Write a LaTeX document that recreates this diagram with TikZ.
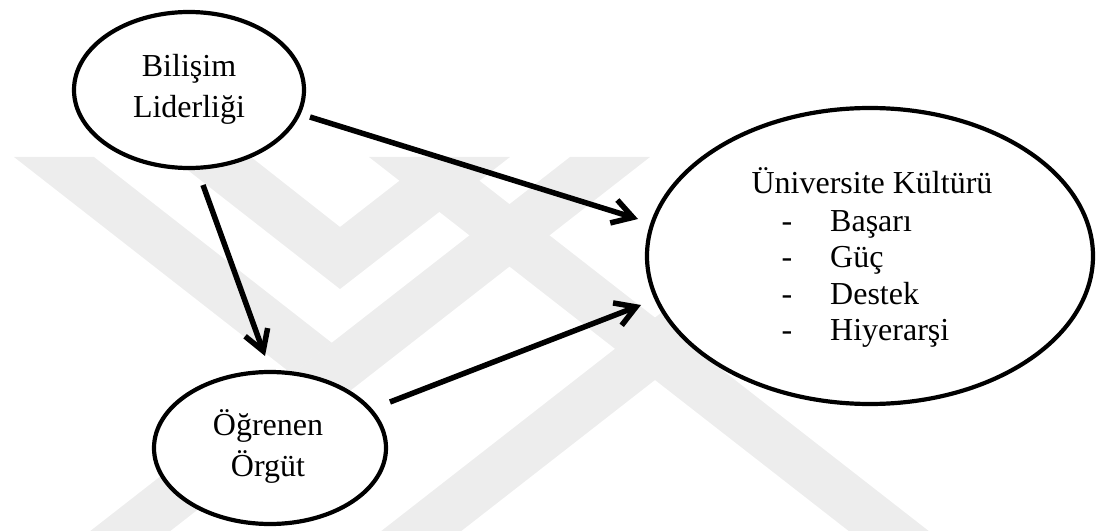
\documentclass[tikz,border=0pt]{standalone}
\usepackage{fontspec}
\setmainfont{Liberation Serif}
\usetikzlibrary{arrows.meta,shapes.geometric}
\begin{document}
\begin{tikzpicture}[x=1pt,y=-1pt,
  bubble/.style={ellipse, draw=black, line width=4.2pt, fill=white, inner sep=0pt},
  txt/.style={font=\fontsize{32}{36}\selectfont, anchor=base, inner sep=0pt},
  link/.style={line width=5.5pt, -{Straight Barb[length=20pt,width=24pt]}},
  wmband/.style={fill=black!7, draw=none}
]
\useasboundingbox (0,0) rectangle (1096,532);

% faint background emblem
\begin{scope}
  \clip (0,157) rectangle (1096,530);
  \fill[wmband] (14,157) -- (94,157) -- (332,343) -- (292,374) -- cycle;
  \fill[wmband] (89,532) -- (169,532) -- (650,157) -- (570,157) -- cycle;
  \fill[wmband] (171,157) -- (251,157) -- (340,227) -- (430,157) -- (510,157) -- (340,289) -- cycle;
  \fill[wmband] (369,157) -- (449,157) -- (930,532) -- (850,532) -- cycle;
  \fill[wmband] (380,532) -- (460,532) -- (941,157) -- (861,157) -- cycle;
\end{scope}

% concepts
\node[bubble, minimum width=230pt, minimum height=156pt] (bl) at (189,90) {};
\node[bubble, minimum width=232pt, minimum height=152pt] (og) at (270,448) {};
\node[bubble, minimum width=446pt, minimum height=296pt] (uk) at (870,256) {};

\node[txt] (bl1) at (189,77) {Bilişim};
\node[txt] (bl2) at (189,118) {Liderliği};
\node[txt] (og1) at (268,435) {Öğrenen};
\node[txt] (og2) at (268,476) {Örgüt};
\node[txt] (uk0) at (872,194) {Üniversite Kültürü};
\node[txt] (d1) at (787,231) {-};
\node[txt] (d2) at (787,267.5) {-};
\node[txt] (d3) at (787,304) {-};
\node[txt] (d4) at (787,340.5) {-};
\node[txt, anchor=base west] (i1) at (830,231) {Başarı};
\node[txt, anchor=base west] (i2) at (830,267.5) {Güç};
\node[txt, anchor=base west] (i3) at (830,304) {Destek};
\node[txt, anchor=base west] (i4) at (830,340.5) {Hiyerarşi};

% relations
\coordinate (a1s) at (310,117);
\coordinate (a1e) at (638,219);
\coordinate (a2s) at (390,402);
\coordinate (a2e) at (641,305);
\coordinate (a3s) at (203,185);
\coordinate (a3e) at (265,356);
\draw[link] (a1s) -- (a1e);
\draw[link] (a2s) -- (a2e);
\draw[link] (a3s) -- (a3e);
\end{tikzpicture}
\end{document}
